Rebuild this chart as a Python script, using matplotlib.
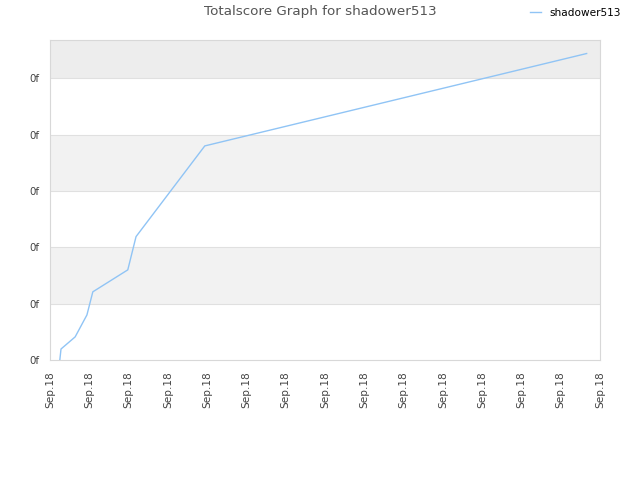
import matplotlib
matplotlib.use("Agg")
import matplotlib.pyplot as plt

# data
x_vals = [0.25, 0.28, 0.64, 0.94, 1.09, 1.98, 2.19, 3.94, 13.66]
scores = [0.0, 0.195, 0.41, 0.80, 1.21, 1.60, 2.19, 3.80, 5.44]
x_tick_labels = ["Sep.18"] * 15
y_tick_labels = ["0f"] * 6
series_name = "shadower513"
title = "Totalscore Graph for shadower513"

fig = plt.figure(figsize=(6.4, 4.8), dpi=100)
ax = fig.add_axes([50/640, 120/480, 550/640, 320/480])
ymax = 5.68
ax.set_xlim(0, 14)
ax.set_ylim(0, ymax)

# alternating bands
for i in range(6):
    top = min(i + 1, ymax)
    if i % 2 == 1:
        ax.axhspan(i, top, color="#f2f2f2" if i < 5 else "#ededed", zorder=0, lw=0)
for i in range(1, 6):
    ax.axhline(i, color="#e0e0e0", lw=0.8, zorder=1)

ax.plot(x_vals, scores, color="#90c4f5", lw=1.0, zorder=3, label=series_name)

ax.set_xticks(range(15))
ax.set_xticklabels(x_tick_labels, rotation=90, fontsize=7.6, color="#444444")
ax.set_yticks(range(6))
ax.set_yticklabels(y_tick_labels, fontsize=7.4, color="#444444")
ax.tick_params(length=0)
ax.tick_params(axis="x", pad=8)
ax.tick_params(axis="y", pad=8)
for s in ax.spines.values():
    s.set_color("#d8d8d8")
    s.set_linewidth(0.8)

fig.text(0.5, 1 - 12/480, title, ha="center", va="center", fontsize=9.7, color="#555555")
leg = fig.legend(loc="center left", bbox_to_anchor=(525/640, 1 - 13/480), frameon=False,
                 fontsize=7.6, handlelength=1.0, handletextpad=0.8, borderpad=0)
fig.savefig("out.png", dpi=100)
